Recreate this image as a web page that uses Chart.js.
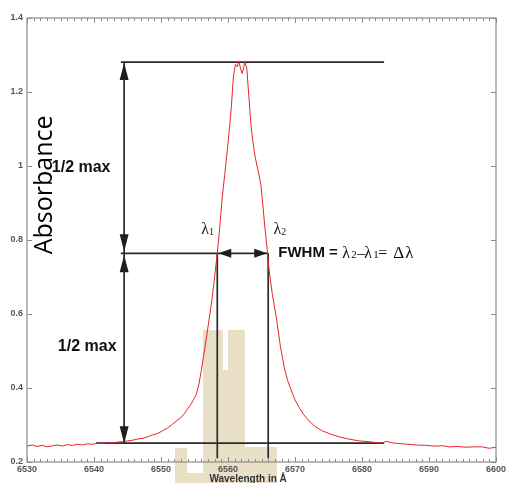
<!DOCTYPE html>
<html><head><meta charset="utf-8">
<script src="https://cdn.jsdelivr.net/npm/chart.js@4"></script>
<style>html,body{margin:0;padding:0;background:#fff}#c{display:block}</style>
</head><body>
<canvas id="c" width="506" height="483"></canvas>
<script>
// ---- data ----
const wavelength = [
 6530.0,6530.8,6531.5,6532.3,6533.0,6533.8,6534.5,6535.3,6536.0,6536.8,
 6537.5,6538.3,6539.0,6539.8,6540.5,6541.3,6542.0,6542.8,6543.5,6544.3,
 6545.0,6545.8,6546.5,6547.3,6548.0,6548.7,6549.5,6550.2,6551.0,6551.7,
 6552.4,6553.1,6553.7,6554.3,6554.8,6555.2,6555.6,6556.0,6556.4,6556.8,
 6557.2,6557.6,6558.0,6558.4,6558.8,6559.1,6559.5,6559.9,6560.2,6560.5,
 6560.8,6561.1,6561.4,6561.6,6561.9,6562.1,6562.3,6562.5,6562.8,6563.1,
 6563.4,6563.7,6564.0,6564.3,6564.6,6564.9,6565.2,6565.5,6565.8,6566.1,
 6566.6,6567.2,6567.8,6568.4,6568.9,6569.4,6570.0,6570.6,6571.3,6572.1,
 6573.0,6574.0,6575.2,6576.6,6578.0,6579.6,6581.0,6582.3,6583.0,6583.6,
 6584.4,6585.5,6586.8,6588.1,6589.5,6590.8,6592.0,6593.0,6594.3,6595.5,
 6596.8,6597.9,6599.0,6600.0
];
const absorbance = [
 0.243,0.246,0.242,0.245,0.241,0.244,0.246,0.243,0.247,0.245,
 0.248,0.246,0.249,0.248,0.251,0.250,0.252,0.251,0.254,0.255,
 0.257,0.259,0.262,0.264,0.268,0.273,0.277,0.284,0.292,0.302,
 0.312,0.322,0.336,0.352,0.366,0.380,0.405,0.445,0.492,0.538,
 0.588,0.638,0.700,0.764,0.840,0.908,0.975,1.043,1.098,1.160,
 1.240,1.275,1.268,1.284,1.262,1.250,1.262,1.281,1.265,1.192,
 1.116,1.068,1.030,1.003,0.978,0.949,0.895,0.835,0.782,0.724,
 0.655,0.592,0.515,0.455,0.420,0.396,0.368,0.348,0.328,0.311,
 0.296,0.285,0.276,0.268,0.262,0.257,0.255,0.252,0.251,0.256,
 0.252,0.250,0.248,0.246,0.245,0.243,0.244,0.241,0.242,0.240,
 0.241,0.241,0.237,0.240
];
const xTicks = [6530,6540,6550,6560,6570,6580,6590,6600];
const yTicks = [0.2,0.4,0.6,0.8,1,1.2,1.4];

// annotation levels
const peakMax = 1.281, halfMax = 0.764, baseLevel = 0.251;
const lambda1 = 6558.4, lambda2 = 6566.0;
const arrowX = 6544.5, guideStart = 6544.0, baseStart = 6540.3, guideEnd = 6583.3;
const lambdaBottom = 0.21;

const pts = wavelength.map((x,i)=>({x:x, y:absorbance[i]}));
const seg = (a,b)=>[a,b];
const lineStyle = {borderColor:'#2a2a2a', borderWidth:1.7, pointRadius:0, showLine:true, fill:false};

const SANS = '"Liberation Sans", Arial, sans-serif';
const SERIF = '"Liberation Serif", "Times New Roman", serif';

const decor = {
  id:'decor',
  beforeDraw(chart){
    const ctx = chart.ctx;
    ctx.save();
    ctx.fillStyle = '#fff';
    ctx.fillRect(0,0,chart.width,chart.height);
    // watermark (tan logo behind plot)
    ctx.fillStyle = '#e9dec6';
    const rects = [
      [203,330,223,370],[228,330,245,370],[203,370,245,483],
      [175,448,187,483],[175,473,203,483],[245,447,277,483]
    ];
    rects.forEach(r=>ctx.fillRect(r[0],r[1],r[2]-r[0],r[3]-r[1]));
    ctx.restore();
  },
  afterDatasetsDraw(chart){
    const ctx = chart.ctx, xs = chart.scales.x, ys = chart.scales.y, a = chart.chartArea;
    const px = v=>xs.getPixelForValue(v), py = v=>ys.getPixelForValue(v);
    ctx.save();
    // frame
    ctx.strokeStyle = '#8c8c8c'; ctx.lineWidth = 1.2;
    ctx.strokeRect(a.left, a.top, a.right-a.left, a.bottom-a.top);
    // tick marks (inward)
    ctx.lineWidth = 1; ctx.strokeStyle = '#8c8c8c';
    ctx.beginPath();
    for (let v = xTicks[0]; v <= xTicks[xTicks.length-1]; v += 1) {
      const major = xTicks.includes(v);
      const L = major ? 5 : 3, X = Math.round(px(v))+0.5;
      ctx.moveTo(X, a.bottom); ctx.lineTo(X, a.bottom-L);
      ctx.moveTo(X, a.top); ctx.lineTo(X, a.top+L);
    }
    yTicks.forEach(v=>{
      const Y = Math.round(py(v))+0.5;
      ctx.moveTo(a.left, Y); ctx.lineTo(a.left+5, Y);
      ctx.moveTo(a.right, Y); ctx.lineTo(a.right-5, Y);
    });
    ctx.stroke();

    // arrowheads
    ctx.fillStyle = '#1e1e1e';
    function head(tx, ty, dir, len, hw){
      ctx.beginPath();
      if (dir==='up'){ ctx.moveTo(tx,ty); ctx.lineTo(tx-hw,ty+len); ctx.lineTo(tx+hw,ty+len); }
      if (dir==='down'){ ctx.moveTo(tx,ty); ctx.lineTo(tx-hw,ty-len); ctx.lineTo(tx+hw,ty-len); }
      if (dir==='left'){ ctx.moveTo(tx,ty); ctx.lineTo(tx+len,ty-hw); ctx.lineTo(tx+len,ty+hw); }
      if (dir==='right'){ ctx.moveTo(tx,ty); ctx.lineTo(tx-len,ty-hw); ctx.lineTo(tx-len,ty+hw); }
      ctx.closePath(); ctx.fill();
    }
    const ax = px(arrowX);
    head(ax, py(peakMax)+1, 'up', 17, 4.5);
    head(ax, py(halfMax)-2, 'down', 17, 4.5);
    head(ax, py(halfMax)+2, 'up', 17, 4.5);
    head(ax, py(baseLevel), 'down', 17, 4.5);
    head(px(lambda1)+1, py(halfMax), 'left', 13, 4.5);
    head(px(lambda2)-1, py(halfMax), 'right', 13, 4.5);

    // texts
    ctx.fillStyle = '#111';
    ctx.textBaseline = 'middle'; ctx.textAlign = 'left';
    ctx.font = 'bold 16px ' + SANS;
    ctx.fillText('1/2 max', px(6533.7), py(0.995));
    ctx.fillText('1/2 max', px(6534.6), py(0.513));

    function lam(x0, yv, sub){
      ctx.font = '16px ' + SERIF; ctx.fillStyle = '#222';
      ctx.fillText('λ', x0, yv);
      const w = ctx.measureText('λ').width;
      ctx.font = '10px ' + SERIF;
      ctx.fillText(sub, x0 + w, yv + 2);
    }
    lam(px(6556.0), py(0.827), '1');
    lam(px(6566.8), py(0.827), '2');

    // FWHM formula
    const x0 = px(6567.5), cy = py(halfMax);
    ctx.font = 'bold 15px ' + SANS; ctx.fillStyle = '#111';
    ctx.fillText('FWHM =', x0, cy);
    const parts = [
      ['λ', '16px '+SERIF, 64, 0], ['2', '11px '+SERIF, 73, 2],
      ['–', '16px '+SERIF, 79, 0],
      ['λ', '16px '+SERIF, 86, 0], ['1', '11px '+SERIF, 95, 2],
      ['=', '16px '+SERIF, 100, 0],
      ['Δ', '17px '+SERIF, 115, 0], ['λ', '17px '+SERIF, 127, 0]
    ];
    parts.forEach(p=>{
      ctx.font = p[1];
      ctx.fillText(p[0], x0 + p[2], cy + p[3]);
    });

    // y title inside plot
    ctx.save();
    ctx.translate(px(6533.7), py(0.949));
    ctx.rotate(-Math.PI/2);
    ctx.font = '25px "Open Sans", sans-serif';
    ctx.textAlign = 'center'; ctx.textBaseline = 'alphabetic';
    ctx.fillStyle = '#000';
    ctx.fillText('Absorbance', 0, 0);
    ctx.restore();

    // x title (partly cut off at bottom)
    ctx.font = 'bold 10px ' + SANS; ctx.fillStyle = '#333';
    ctx.textAlign = 'center'; ctx.textBaseline = 'top';
    ctx.fillText('Wavelength in Å', px(6563.0), a.bottom + 12);
    ctx.restore();
  }
};

new Chart(document.getElementById('c'), {
  type:'scatter',
  data:{datasets:[
    {data:pts, borderColor:'#e8252d', borderWidth:1, pointRadius:0, showLine:true, fill:false, tension:0},
    Object.assign({data:seg({x:guideStart,y:peakMax},{x:guideEnd,y:peakMax})}, lineStyle),
    Object.assign({data:seg({x:guideStart,y:halfMax},{x:lambda2,y:halfMax})}, lineStyle),
    Object.assign({data:seg({x:baseStart,y:baseLevel},{x:guideEnd,y:baseLevel})}, lineStyle),
    Object.assign({data:seg({x:arrowX,y:peakMax},{x:arrowX,y:baseLevel})}, lineStyle),
    Object.assign({data:seg({x:lambda1,y:halfMax},{x:lambda1,y:lambdaBottom})}, lineStyle),
    Object.assign({data:seg({x:lambda2,y:halfMax},{x:lambda2,y:lambdaBottom})}, lineStyle)
  ]},
  options:{
    responsive:false, animation:false, devicePixelRatio:1,
    layout:{padding:{top:18,right:10,left:0,bottom:0}},
    plugins:{legend:{display:false}, tooltip:{enabled:false}},
    scales:{
      x:{type:'linear', min:6530, max:6600,
         afterBuildTicks:s=>{s.ticks = xTicks.map(v=>({value:v}));},
         afterFit:s=>{s.height = 21; s.paddingLeft = 0; s.paddingRight = 0;},
         ticks:{callback:v=>String(v), font:{family:SANS, size:9, weight:'bold'}, color:'#555', padding:2, maxRotation:0, autoSkip:false},
         grid:{display:false, drawTicks:false}, border:{display:false}},
      y:{type:'linear', min:0.2, max:1.4,
         afterBuildTicks:s=>{s.ticks = yTicks.map(v=>({value:v}));},
         afterFit:s=>{s.width = 27; s.paddingTop = 0; s.paddingBottom = 0;},
         ticks:{callback:v=>String(v), font:{family:SANS, size:9, weight:'bold'}, color:'#555', padding:4, autoSkip:false},
         grid:{display:false, drawTicks:false}, border:{display:false}}
    }
  },
  plugins:[decor]
});
</script>
</body></html>
